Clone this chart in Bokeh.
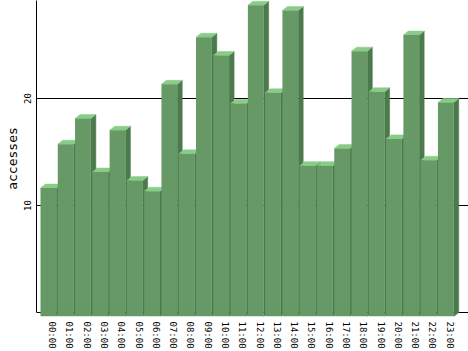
from bokeh.plotting import figure
from bokeh.models import FixedTicker, Range1d
from bokeh.embed import file_html
from bokeh.resources import INLINE

# ---- data ----
hours = ["00:00", "01:00", "02:00", "03:00", "04:00", "05:00", "06:00", "07:00",
         "08:00", "09:00", "10:00", "11:00", "12:00", "13:00", "14:00", "15:00",
         "16:00", "17:00", "18:00", "19:00", "20:00", "21:00", "22:00", "23:00"]
accesses = [12.0, 16.1, 18.5, 13.5, 17.4, 12.7, 11.7, 21.7, 15.2, 26.1, 24.4, 19.9,
            29.1, 20.9, 28.6, 14.1, 14.1, 15.7, 24.8, 21.0, 16.6, 26.3, 14.6, 20.0]
y_ticks = [10, 20]

# ---- geometry (pixels -> data units) ----
FRAME_W, FRAME_H = 432, 316
PX_PER_BAR = 17.28
PX_PER_UNIT = 10.7
DEPTH_X = 5 / PX_PER_BAR
DEPTH_Y = 4 / PX_PER_UNIT
FRONT_OFF = 11.7 / PX_PER_BAR
FRONT_W = 15.8 / PX_PER_BAR

x_start = -(4 / PX_PER_BAR) - FRONT_OFF
x_end = x_start + FRAME_W / PX_PER_BAR
y_start = -DEPTH_Y
y_end = y_start + FRAME_H / PX_PER_UNIT

FRONT = "#669966"
TOP = "#88cc88"
SIDE = "#4d7a4d"
FONT = "DejaVu Sans Mono"

p = figure(frame_width=FRAME_W, frame_height=FRAME_H,
           x_range=Range1d(x_start, x_end), y_range=Range1d(y_start, y_end),
           output_backend="svg", toolbar_location=None, min_border=0,
           min_border_left=36)
p.outline_line_color = None
p.background_fill_color = "white"
p.border_fill_color = "white"

# grid
p.xgrid.visible = False
p.ygrid.ticker = FixedTicker(ticks=[0] + y_ticks)
p.ygrid.grid_line_color = "black"
p.ygrid.grid_line_width = 1

# y axis
p.yaxis.ticker = FixedTicker(ticks=y_ticks)
p.yaxis.bounds = (0, y_end)
p.yaxis.axis_label = "accesses"
p.yaxis.axis_label_text_font = FONT
p.yaxis.axis_label_text_font_size = "13px"
p.yaxis.axis_label_text_font_style = "normal"
p.yaxis.axis_label_text_color = "black"
p.yaxis.axis_label_standoff = 1
p.yaxis.major_label_text_font = FONT
p.yaxis.major_label_text_font_size = "9px"
p.yaxis.major_label_text_color = "black"
p.yaxis.major_label_orientation = "vertical"
p.yaxis.major_label_standoff = 6
p.yaxis.major_tick_out = 0
p.yaxis.major_tick_in = 0
p.yaxis.minor_tick_line_color = None
p.yaxis.axis_line_color = "black"

# x axis
p.xaxis.ticker = FixedTicker(ticks=list(range(len(hours))))
p.xaxis.major_label_overrides = {i: h for i, h in enumerate(hours)}
p.xaxis.major_label_text_font = FONT
p.xaxis.major_label_text_font_size = "9px"
p.xaxis.major_label_text_color = "black"
p.xaxis.major_label_orientation = "vertical"
p.xaxis.major_label_standoff = 5
p.xaxis.axis_line_color = None
p.xaxis.major_tick_line_color = None
p.xaxis.minor_tick_line_color = None
p.xaxis.major_tick_out = 0

# ---- 3D bars ----
fl = [i - FRONT_OFF for i in range(len(accesses))]
fr = [x + FRONT_W for x in fl]
ftop = [v - DEPTH_Y for v in accesses]

side_xs, side_ys, top_xs, top_ys = [], [], [], []
for l, r, v, t in zip(fl, fr, accesses, ftop):
    side_xs.append([r, r + DEPTH_X, r + DEPTH_X, r])
    side_ys.append([t, v, 0, -DEPTH_Y])
    top_xs.append([l, r, r + DEPTH_X, l + DEPTH_X])
    top_ys.append([t, t, v, v])

p.patches(side_xs, side_ys, fill_color=SIDE, line_color=SIDE, line_width=0.5)
p.patches(top_xs, top_ys, fill_color=TOP, line_color=TOP, line_width=0.5)
p.quad(left=fl, right=fr, bottom=[-DEPTH_Y] * len(accesses), top=ftop,
       fill_color=FRONT, line_color=None)

open("out.html", "w").write(file_html(p, INLINE))
